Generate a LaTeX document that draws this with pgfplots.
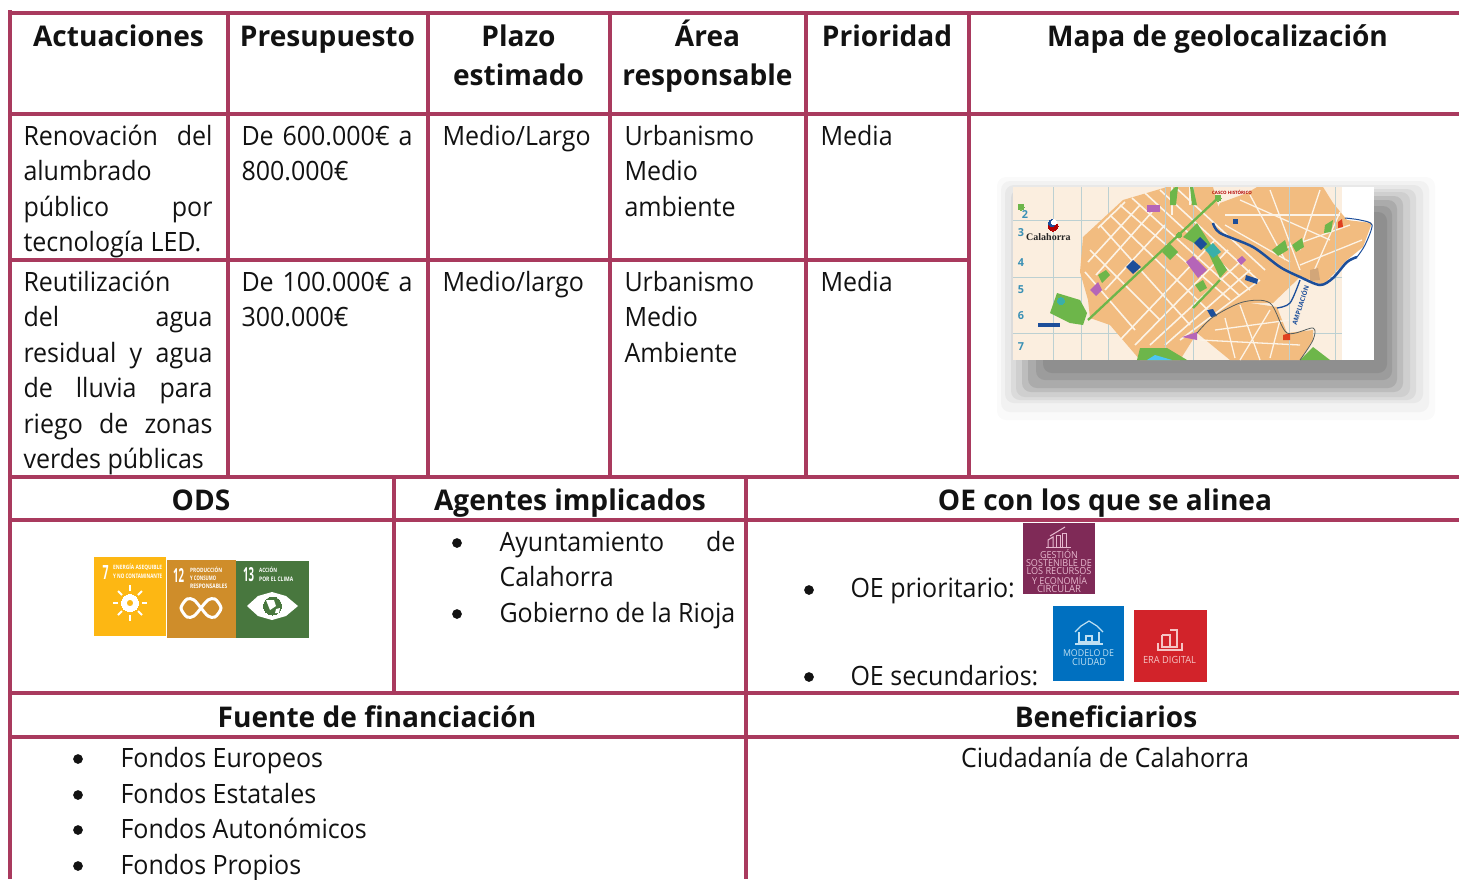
\documentclass[border=0pt]{standalone}
\usepackage{fontspec}
\usepackage{pgfplots}
\pgfplotsset{compat=1.18}
\setmainfont[FakeStretch=0.94,BoldFeatures={FakeStretch=0.985}]{Open Sans}
\newfontfamily\ser{Liberation Serif}
\definecolor{tl}{HTML}{A93A5E}
\definecolor{ink}{HTML}{121212}
\definecolor{mbg}{HTML}{FBEEDF}
\definecolor{mor}{HTML}{F2BC80}
\definecolor{mst}{HTML}{FCF3E6}
\definecolor{mgr}{HTML}{BCD0D2}
\definecolor{mgn}{HTML}{6DB64A}
\definecolor{mbl}{HTML}{1C4E9A}
\definecolor{mpu}{HTML}{B565B8}
\definecolor{mte}{HTML}{3AAFA9}
\definecolor{sy}{HTML}{FDB713}
\definecolor{so}{HTML}{CF8D2A}
\definecolor{sg}{HTML}{48773E}
\definecolor{om}{HTML}{7F2A57}
\definecolor{ob}{HTML}{0070C0}
\definecolor{or}{HTML}{D2232A}
\definecolor{op}{HTML}{E6B8CE}
\definecolor{obl}{HTML}{BFE0F2}
\definecolor{orl}{HTML}{F5C4C4}
\newcommand{\BF}{\fontsize{26.6pt}{30pt}\selectfont}
\newcommand{\HF}{\fontsize{28.5pt}{30pt}\selectfont\bfseries}
\newcommand{\T}[3]{\node[anchor=base west,inner sep=0pt,text=ink,font=\BF] at (axis cs:#1-0.7,#2-0.4) {#3};}
\newcommand{\C}[3]{\node[anchor=base,inner sep=0pt,text=ink,font=\BF] at (axis cs:#1,#2-0.4) {#3};}
\newcommand{\B}[3]{\node[anchor=base,inner sep=0pt,text=ink,font=\HF] at (axis cs:#1,#2) {#3};}
\newcommand{\J}[4]{\node[anchor=base west,inner sep=0pt,text=ink,font=\BF] at (axis cs:#1-0.7,#2-0.4) {\hbox to #3pt{#4}};}
\newcommand{\Rc}[5]{\addplot[fill=#1,draw=none] coordinates {(#2,#3)(#4,#3)(#4,#5)(#2,#5)} -- cycle;}
\newcommand{\Sh}[5]{\addplot[fill=#1,draw=none,rounded corners=9pt] coordinates {(#2,#3)(#4,#3)(#4,#5)(#2,#5)} -- cycle;}
\newcommand{\F}[2]{\addplot[fill=#1,draw=none] coordinates {#2} -- cycle;}
\newcommand{\Ln}[3]{\addplot[draw=#1,line width=#2pt] coordinates {#3};}
\newcommand{\Sm}[3]{\addplot[draw=#1,line width=#2pt,smooth] coordinates {#3};}
\newcommand{\St}[4]{\addplot[draw=mst,line width=#1pt] coordinates {(#2)(#3)};}
\newcommand{\Tx}[5]{\node[inner sep=0pt,text=#1,font=\fontsize{#2pt}{#2pt}\selectfont] at (axis cs:#3,#4) {#5};}
\newcommand{\Sz}[6]{\node[anchor=west,inner sep=0pt,text=#1,font=\fontsize{8pt}{8pt}\selectfont\bfseries] at (axis cs:#2,#3) {\resizebox{#4pt}{#5pt}{#6}};}
\newcommand{\Wz}[5]{\node[inner sep=0pt,text=#1,font=\fontsize{8pt}{8pt}\selectfont] at (axis cs:#2,#3) {\resizebox{#4pt}{!}{#5}};}
\newcommand{\Cn}[5]{\node[circle,inner sep=0pt,minimum size=#4pt,fill=#1,draw=#2,line width=#5pt] at (axis cs:#3) {};}
\begin{document}
\begin{tikzpicture}[x=1pt,y=1pt]
\path[use as bounding box] (0,0) rectangle (1459pt,879pt);
\clip (0,0) rectangle (1459pt,879pt);
\begin{axis}[at={(0,0)},anchor=south west,scale only axis,width=1459pt,height=879pt,
  xmin=0,xmax=1459,ymin=0,ymax=879,y dir=reverse,hide axis,clip=false]
% table rules
\Ln{tl}{4}{(8,13)(1459,13)}
\Ln{tl}{4}{(10,114)(1459,114)}
\Ln{tl}{4}{(10,260)(969,260)}
\Ln{tl}{4}{(10,477)(1459,477)}
\Ln{tl}{4}{(10,520)(1459,520)}
\Ln{tl}{4}{(10,692.5)(1459,692.5)}
\Ln{tl}{4}{(10,737)(1459,737)}
\Ln{tl}{4}{(10,10)(10,879)}
\Ln{tl}{4}{(228,13)(228,477)}
\Ln{tl}{4}{(428,13)(428,477)}
\Ln{tl}{4}{(610,13)(610,477)}
\Ln{tl}{4}{(806,13)(806,477)}
\Ln{tl}{4}{(969,13)(969,477)}
\Ln{tl}{4}{(394,477)(394,692)}
\Ln{tl}{4}{(746,477)(746,879)}
% map shadow
\Sh{black!2}{997}{177}{1435}{420}
\Sh{black!5}{1001}{181}{1429}{412}
\Sh{black!9}{1005}{185}{1423}{403}
\Sh{black!14}{1011}{189}{1416}{400}
\Sh{black!19}{1016}{192}{1410}{397}
\Sh{black!26}{1022}{196}{1403}{392}
\Sh{black!33}{1028}{200}{1397}{388}
\Sh{black!39}{1036}{206}{1392}{380}
\Sh{black!44}{1043}{212}{1387}{373}
% map
\Rc{white}{1013}{187}{1374}{360}
\Rc{mbg}{1013}{187}{1342}{360}
\Ln{mgr}{1}{(1053,187)(1053,360)}
\Ln{mgr}{1}{(1081,187)(1081,360)}
\Ln{mgr}{1}{(1108,187)(1108,360)}
\Ln{mgr}{1}{(1013,220)(1342,220)}
\Ln{mgr}{1}{(1013,277)(1342,277)}
\Ln{mgr}{1}{(1013,333)(1342,333)}
\F{mor}{(1083,237)(1123,200)(1167,187)(1213,187)(1220,213)(1257,250)(1300,277)(1273,303)(1240,303)(1197,333)(1180,360)(1140,360)(1110,325)(1090,318)(1088,300)(1080,272)}
\F{mor}{(1213,217)(1220,203)(1247,193)(1257,187)(1323,187)(1333,203)(1347,220)(1372,223)(1363,247)(1347,260)(1323,285)(1300,277)(1257,250)}
\F{mor}{(1197,333)(1213,317)(1243,302)(1277,307)(1287,333)(1313,330)(1313,340)(1300,360)(1230,360)}
\St{1.6}{1100,225}{1190,325}{}
\St{1.6}{1110,215}{1210,312}{}
\St{1.6}{1120,205}{1230,300}{}
\St{1.6}{1132,198}{1240,296}{}
\St{1.6}{1145,193}{1250,290}{}
\St{1.6}{1160,190}{1258,280}{}
\St{1.6}{1175,187}{1265,270}{}
\St{1.6}{1090,250}{1160,320}{}
\St{1.6}{1085,272}{1135,330}{}
\St{1.6}{1120,340}{1215,240}{}
\St{1.6}{1135,345}{1228,250}{}
\St{1.6}{1150,345}{1240,262}{}
\St{1.6}{1165,345}{1250,270}{}
\St{1.6}{1180,340}{1260,280}{}
\St{1.6}{1088,262}{1140,205}{}
\St{1.6}{1096,275}{1152,212}{}
\St{1.6}{1105,290}{1165,225}{}
\St{1.6}{1098,228}{1125,202}{}
\St{1.6}{1172,187}{1172,215}{}
\St{1.6}{1190,187}{1190,205}{}
\St{1.3}{1240,200}{1330,240}{}
\St{1.3}{1225,225}{1290,262}{}
\St{1.3}{1270,190}{1300,270}{}
\St{1.3}{1250,195}{1285,260}{}
\St{1.3}{1320,190}{1300,250}{}
\St{1.3}{1340,212}{1310,280}{}
\St{1.3}{1225,215}{1340,215}{}
\St{1.3}{1280,250}{1350,225}{}
\St{1.3}{1300,265}{1362,240}{}
\St{1.3}{1215,330}{1290,320}{}
\St{1.3}{1240,305}{1260,360}{}
\St{1.3}{1270,310}{1240,360}{}
\St{1.3}{1200,340}{1300,345}{}
\St{1.3}{1225,318}{1235,358}{}
\St{1.3}{1280,320}{1270,358}{}
\Ln{mgr}{1}{(1165,187)(1165,360)}
\Ln{mgr}{1}{(1193,187)(1193,360)}
\Ln{mgr}{1}{(1289,187)(1289,360)}
\Ln{mgr}{1}{(1335,187)(1335,360)}
\Ln{mgn}{2.3}{(1088,320)(1218,198)}
\Ln{mgn}{2.3}{(1193,308)(1220,280)}
\Cn{mgn}{mgn}{1218,198}{6}{0}
\Cn{mgn}{mgn}{1179,235}{5}{0}
\Cn{mgn}{mgn}{1021,207}{6}{0}
\F{mgn}{(1183,237)(1197,223)(1227,270)(1220,278)(1207,250)}
\F{mbl}{(1194,243)(1200,237)(1207,244)(1201,250)}
\F{mte}{(1205,250)(1213,243)(1221,252)(1213,258)}
\F{mbl}{(1126,267)(1133,260)(1141,267)(1133,274)}
\F{mpu}{(1186,262)(1193,256)(1207,270)(1198,278)}
\F{mgn}{(1162,252)(1170,244)(1178,252)(1170,260)}
\F{mgn}{(1050,313)(1057,293)(1080,300)(1087,313)(1083,325)(1070,323)}
\Cn{mte}{mte}{1061,301}{7}{0}
\F{mgn}{(1137,360)(1140,348)(1167,348)(1187,360)}
\F{cyan!70!white}{(1147,360)(1155,355)(1172,360)}
\F{mgn}{(1300,360)(1313,347)(1330,360)}
\F{mgn}{(1170,192)(1175,187)(1178,187)(1176,205)(1170,205)}
\F{mgn}{(1190,187)(1193,187)(1197,205)(1192,205)}
\F{mgn}{(1272,250)(1285,240)(1288,250)(1278,256)}
\F{mgn}{(1292,245)(1302,238)(1304,247)(1296,252)}
\F{mgn}{(1325,225)(1333,220)(1331,232)(1324,233)}
\F{mgn}{(1195,285)(1203,280)(1207,288)(1200,292)}
\F{mgn}{(1098,275)(1106,270)(1110,275)(1102,283)}
\F{mpu}{(1182,337)(1197,332)(1197,340)}
\F{mpu}{(1090,290)(1098,282)(1102,290)(1096,296)}
\F{mpu}{(1147,205)(1160,205)(1160,212)(1147,212)}
\F{mpu}{(1237,260)(1242,256)(1246,260)(1241,265)}
\F{mbl}{(1246,275)(1258,279)(1257,284)(1245,280)}
\F{mbl}{(1207,310)(1213,309)(1217,316)(1211,317)}
\F{mbl}{(1038,323)(1060,323)(1060,327)(1038,327)}
\F{mbl}{(1233,219)(1238,219)(1238,224)(1233,224)}
\F{brown!70!white}{(1310,270)(1318,268)(1320,280)(1310,281)}
\F{red!50!brown}{(1338,222)(1342,219)(1343,227)(1338,228)}
\F{red!50!brown}{(1283,335)(1290,333)(1290,340)(1283,340)}
\Sm{mbl}{2.5}{(1213,223)(1220,233)(1253,247)(1280,267)(1300,277)(1320,285)(1333,278)(1347,262)(1357,257)}
\Sm{mbl}{1}{(1357,257)(1365,245)(1372,225)(1360,220)(1345,218)}
\Sm{mbl}{1.3}{(1277,308)(1290,303)(1300,280)}
\Sm{black!55!mgr}{0.8}{(1197,333)(1213,317)(1243,302)(1270,303)(1287,333)(1313,328)(1313,340)(1300,360)}
\node[inner sep=0pt,rotate=72,text=mbl,font=\fontsize{6.5pt}{7pt}\selectfont\bfseries] at (axis cs:1300,305) {AMPLIACIÓN};
\Tx{red!70!black}{4.5}{1232}{192}{\bfseries CASCO HISTÓRICO}
\Cn{red!70!black}{red!70!black}{1053,226}{10}{0}
\Cn{mbl}{mbl}{1052,223}{7}{0}
\Cn{white}{white}{1054,222}{5}{0}
\node[inner sep=0pt,anchor=base west,text=black!85,font=\fontsize{10pt}{10pt}\ser\bfseries] at (axis cs:1026,240) {Calahorra};
\Tx{cyan!70!black}{11}{1025}{215}{\bfseries 2}
\Tx{cyan!70!black}{11}{1021}{233}{\bfseries 3}
\Tx{cyan!70!black}{11}{1021}{263}{\bfseries 4}
\Tx{cyan!70!black}{11}{1021}{290}{\bfseries 5}
\Tx{cyan!70!black}{11}{1021}{316}{\bfseries 6}
\Tx{cyan!70!black}{11}{1021}{347}{\bfseries 7}
% SDG icons
\Rc{sy}{94}{557}{166}{636}
\Rc{so}{167}{560}{236}{638}
\Rc{sg}{236}{561}{309}{638}
\Sz{white}{102.5}{572.5}{6}{14}{7}
\Sz{white}{173}{575}{11}{14}{12}
\Sz{white}{243}{575}{11}{14}{13}
\Sz{white}{113}{567}{49}{5.5}{ENERGÍA ASEQUIBLE}
\Sz{white}{113}{576}{49}{4.5}{Y NO CONTAMINANTE}
\Sz{white}{190}{570}{32}{5.5}{PRODUCCIÓN}
\Sz{white}{190}{578}{26}{4.5}{Y CONSUMO}
\Sz{white}{190}{586}{37}{4.5}{RESPONSABLES}
\Sz{white}{259}{570}{18}{5.5}{ACCIÓN}
\Sz{white}{259}{579}{34}{4.5}{POR EL CLIMA}
\Cn{white}{white}{130,603}{17}{0}
\Cn{sy}{white}{130,603}{8}{1.5}
\Ln{white}{1.8}{(113,603)(118,603)}
\Ln{white}{1.8}{(142,603)(147,603)}
\Ln{white}{1.8}{(130,585)(130,591)}
\Ln{white}{1.8}{(130,615)(130,621)}
\Ln{white}{1.8}{(118,591)(122,595)}
\Ln{white}{1.8}{(138,595)(142,591)}
\Ln{white}{1.8}{(118,615)(122,611)}
\Ln{white}{1.8}{(138,611)(142,615)}
\addplot[draw=white,line width=3pt,smooth] coordinates {(201,608)(208,600)(215,599)(221,608)(215,617)(208,616)(201,608)(194,600)(187,599)(181,608)(187,617)(194,616)(201,608)};
\F{white}{(247,606)(258,596)(272,592)(286,596)(298,606)(286,616)(272,620)(258,616)}
\Cn{sg}{sg}{272.5,606}{18}{0}
\F{white}{(266,600)(274,600)(276,606)(270,610)}
\F{white}{(276,609)(280,608)(279,613)(275,613)}
% OE icons
\Rc{om}{1023}{523}{1095}{594}
\Rc{ob}{1053}{606}{1124}{681}
\Rc{or}{1134}{610}{1207}{682}
\Wz{op}{1059}{554}{38}{GESTIÓN}
\Wz{op}{1059}{562.7}{66}{SOSTENIBLE DE}
\Wz{op}{1059}{571}{65}{LOS RECURSOS}
\Wz{op}{1059.5}{580}{55}{Y ECONOMÍA}
\Wz{op}{1059}{588.5}{44}{CIRCULAR}
\Ln{op}{1}{(1048,547)(1048,540)(1053,537)(1053,547)}
\Ln{op}{1}{(1056,547)(1056,535)(1060,535)(1060,547)}
\Ln{op}{1}{(1062,547)(1062,533)(1066,533)(1066,547)}
\Ln{op}{1}{(1046,547)(1071,547)}
\Ln{op}{1}{(1050,536)(1065,527)}
\Wz{obl}{1088.5}{653}{51}{MODELO DE}
\Wz{obl}{1089}{662}{34}{CIUDAD}
\Ln{obl}{1.2}{(1075,632)(1081,626)(1089,621)(1097,626)(1103,632)}
\Ln{obl}{1.2}{(1079,632)(1079,642)(1099,642)(1099,632)}
\Ln{obl}{1.2}{(1086,642)(1086,636)(1092,636)(1092,642)}
\Ln{obl}{1.2}{(1075,644)(1103,644)}
\Wz{orl}{1169.5}{660}{53}{ERA DIGITAL}
\Ln{orl}{1.2}{(1162,635)(1170,635)(1170,647)(1162,647)(1162,635)}
\Ln{orl}{1.2}{(1170,630)(1177,630)(1177,647)(1170,647)}
\Ln{orl}{1.2}{(1158,643)(1158,650)(1182,650)(1182,643)}
% headers
\B{118.5}{46}{Actuaciones}
\B{327.5}{46}{Presupuesto}
\B{518.5}{46}{Plazo}
\B{518.5}{85}{estimado}
\B{707.5}{46}{Área}
\B{707.5}{85}{responsable}
\B{887}{46}{Prioridad}
\B{1217.5}{46}{Mapa de geolocalización}
\B{201}{510}{ODS}
\B{570}{510}{Agentes implicados}
\B{1105}{510}{OE con los que se alinea}
\B{377}{727}{Fuente de financiación}
\B{1106}{727}{Beneficiarios}
% row 1
\J{24}{146}{189}{Renovación\hfill del}
\T{24}{181}{alumbrado}
\J{24}{217}{189}{público\hfill por}
\T{24}{252}{tecnología LED.}
\J{242}{146}{171}{De\hfill 600.000€\hfill a}
\T{242}{181}{800.000€}
\T{443}{146}{Medio/Largo}
\T{625}{146}{Urbanismo}
\T{625}{181}{Medio}
\T{625}{217}{ambiente}
\T{821}{146}{Media}
% row 2
\T{24}{292}{Reutilización}
\J{24}{327}{189}{del\hfill agua}
\J{24}{363}{189}{residual\hfill y\hfill agua}
\J{24}{398}{189}{de\hfill lluvia\hfill para}
\J{24}{434}{189}{riego\hfill de\hfill zonas}
\T{24}{469}{verdes públicas}
\J{242}{292}{171}{De\hfill 100.000€\hfill a}
\T{242}{327}{300.000€}
\T{443}{292}{Medio/largo}
\T{625}{292}{Urbanismo}
\T{625}{327}{Medio}
\T{625}{363}{Ambiente}
\T{821}{292}{Media}
% lower
\J{500}{552}{236}{Ayuntamiento\hfill de}
\T{500}{587}{Calahorra}
\T{500}{623}{Gobierno de la Rioja}
\T{851}{598}{OE prioritario:}
\T{851}{686}{OE secundarios:}
\T{121}{768}{Fondos Europeos}
\T{121}{804}{Fondos Estatales}
\T{121}{839}{Fondos Autonómicos}
\T{121}{875}{Fondos Propios}
\C{1105}{768}{Ciudadanía de Calahorra}
\addplot[only marks,mark=*,mark size=4.6pt,mark options={fill=ink,draw=ink}] coordinates {(457,543)(457,614)(809,590)(809,677)(78,759)(78,795)(78,830)(78,866)};
\end{axis}
\end{tikzpicture}
\end{document}
